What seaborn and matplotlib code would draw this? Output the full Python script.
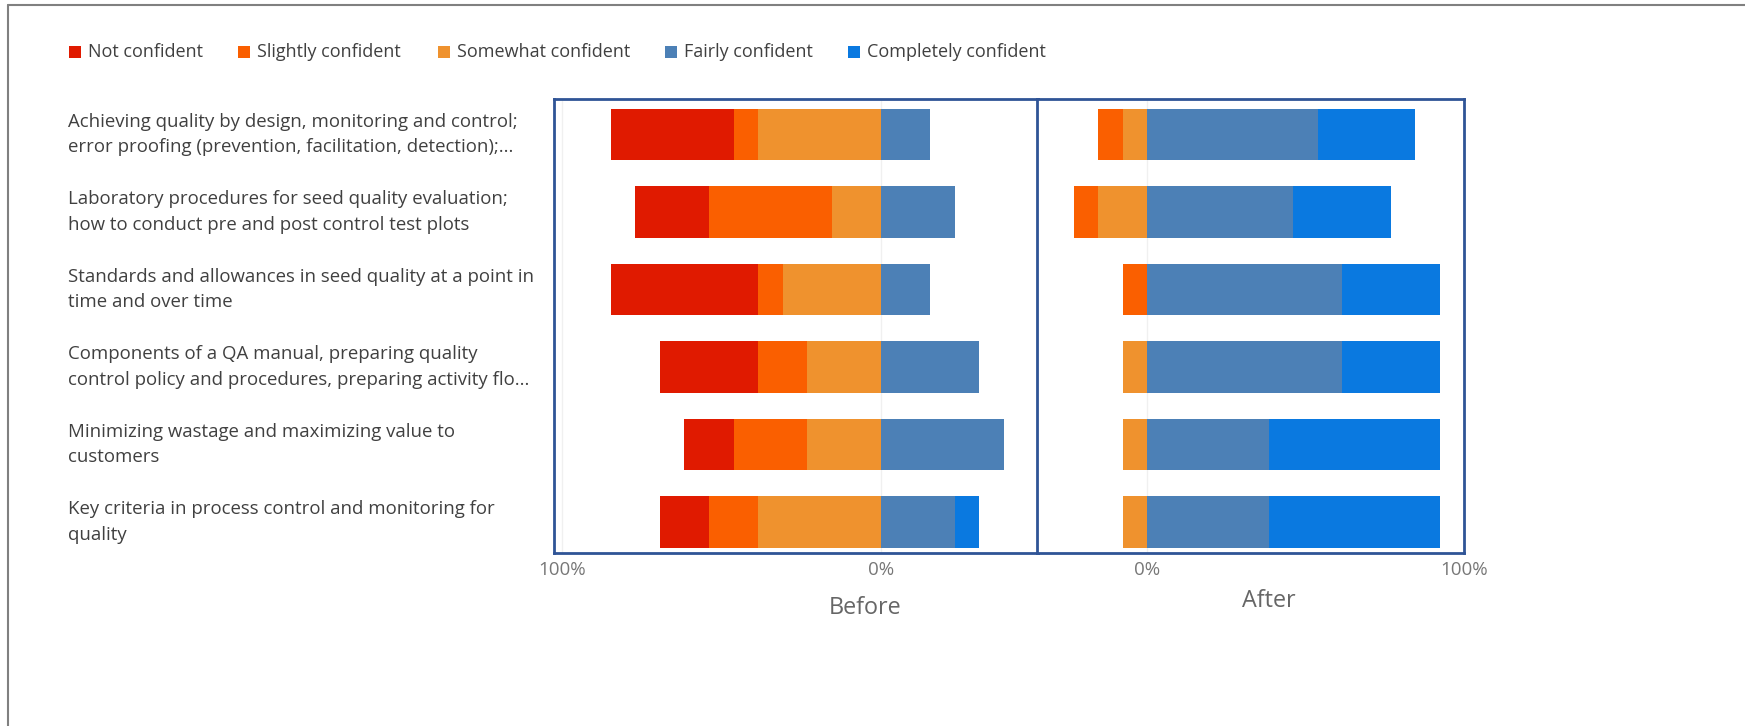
import matplotlib
matplotlib.use("Agg")
import matplotlib.pyplot as plt
from matplotlib.patches import Rectangle
from matplotlib.lines import Line2D
import seaborn as sns

# topics (wrapped like the original)
categories = [
    "Achieving quality by design, monitoring and control;\nerror proofing (prevention, facilitation, detection);...",
    "Laboratory procedures for seed quality evaluation;\nhow to conduct pre and post control test plots",
    "Standards and allowances in seed quality at a point in\ntime and over time",
    "Components of a QA manual, preparing quality\ncontrol policy and procedures, preparing activity flo...",
    "Minimizing wastage and maximizing value to\ncustomers",
    "Key criteria in process control and monitoring for\nquality",
]
levels = ["Not confident", "Slightly confident", "Somewhat confident",
          "Fairly confident", "Completely confident"]
level_colors = ["#E01A00", "#FA5F00", "#EF922E", "#4C80B6", "#0A79E0"]

# % of respondents, before training
before_not = [38.5, 23.1, 46.2, 30.8, 15.4, 15.4]
before_slightly = [7.7, 38.5, 7.7, 15.4, 23.1, 15.4]
before_somewhat = [38.5, 15.4, 30.8, 23.1, 23.1, 38.5]
before_fairly = [15.4, 23.1, 15.4, 30.8, 38.5, 23.1]
before_completely = [0, 0, 0, 0, 0, 7.7]

# % of respondents, after training
after_not = [0, 0, 0, 0, 0, 0]
after_slightly = [7.7, 7.7, 7.7, 0, 0, 0]
after_somewhat = [7.7, 15.4, 0, 7.7, 7.7, 7.7]
after_fairly = [53.8, 46.2, 61.5, 61.5, 38.5, 38.5]
after_completely = [30.8, 30.8, 30.8, 30.8, 53.8, 53.8]

sns.set_theme(style="white")
plt.rcParams["font.family"] = ["Open Sans", "DejaVu Sans"]

W, H = 1745, 726
fig = plt.figure(figsize=(W / 100, H / 100), dpi=100)


def fx(px):
    return px / W


def fy(py):
    return 1 - py / H


frame_col = "#2F5496"
tick_col = "#777777"


def draw(ax, not_c, slight, some, fairly, complete):
    # negative side is stacked outward from 0, largest first so smaller ones overlay
    left3 = [-(a + b + c) for a, b, c in zip(not_c, slight, some)]
    left2 = [-(b + c) for b, c in zip(slight, some)]
    left1 = [-c for c in some]
    right2 = [d + e for d, e in zip(fairly, complete)]
    right1 = list(fairly)
    layers = [(left3, level_colors[0]), (left2, level_colors[1]), (left1, level_colors[2]),
              (right2, level_colors[4]), (right1, level_colors[3])]
    for vals, col in layers:
        sns.barplot(x=vals, y=categories, orient="h", color=col, saturation=1,
                    width=0.667, errorbar=None, linewidth=0, ax=ax)
    ax.set_ylim(5.40, -0.46)
    ax.set_xlabel("")
    ax.set_ylabel("")
    for sp in ax.spines.values():
        sp.set_visible(True)
        sp.set_color(frame_col)
        sp.set_linewidth(2)
    ax.tick_params(axis="x", length=0, pad=6, labelsize=13.5, labelcolor=tick_col)


ax_b = fig.add_axes([fx(554), fy(553), fx(1038) - fx(554), (553 - 99) / H])
ax_a = fig.add_axes([fx(1037), fy(553), fx(1464) - fx(1037), (553 - 99) / H])

draw(ax_b, before_not, before_slightly, before_somewhat, before_fairly, before_completely)
draw(ax_a, after_not, after_slightly, after_somewhat, after_fairly, after_completely)

# faint guide lines
ax_b.axvline(0, color="#f0f0f0", lw=1, zorder=0)
ax_b.axvline(-100, color="#f0f0f0", lw=1, zorder=0)
ax_a.axvline(0, color="#f0f0f0", lw=1, zorder=0)

ax_b.set_xlim(-102.5, 49.2)
ax_b.set_xticks([-100, 0])
ax_b.set_xticklabels(["100%", "0%"])
ax_a.set_xlim(-34.7, 99.6)
ax_a.set_xticks([0, 100])
ax_a.set_xticklabels(["0%", "100%"])

ax_b.tick_params(axis="y", length=0, pad=350, labelsize=13.4, labelcolor="#404040")
for lab in ax_b.get_yticklabels():
    lab.set_ha("left")
    lab.set_va("center")
    lab.set_linespacing(1.55)
ax_a.set_yticks([])

# legend drawn by hand along the top
legend_x = [69, 238, 438, 665, 848]
for x, name, col in zip(legend_x, levels, level_colors):
    fig.add_artist(Rectangle((fx(x), fy(58)), 12 / W, 12 / H, transform=fig.transFigure,
                             facecolor=col, edgecolor="none"))
    fig.text(fx(x + 19), fy(52), name, ha="left", va="center", fontsize=13, color="#404040")

fig.text(fx(865), fy(608), "Before", ha="center", va="center", fontsize=16.8, color="#666666")
fig.text(fx(1269), fy(601), "After", ha="center", va="center", fontsize=16.8, color="#666666")

# outer frame of the visual
fig.add_artist(Line2D([fx(8), 1], [fy(5), fy(5)], transform=fig.transFigure, color="#808080", lw=1.5))
fig.add_artist(Line2D([fx(8), fx(8)], [fy(5), 0], transform=fig.transFigure, color="#808080", lw=1.5))

fig.savefig("out.png", dpi=100)
